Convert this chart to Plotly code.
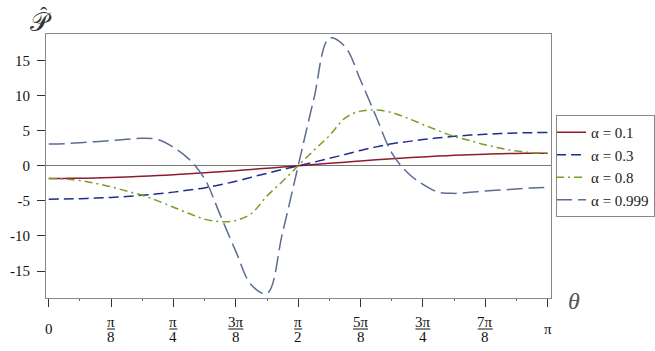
import math
import plotly.graph_objects as go

# sample positions in units of pi/32
theta_steps = list(range(33))
theta = [k * math.pi / 32 for k in theta_steps]

p_01 = [-1.80, -1.79, -1.77, -1.73, -1.66, -1.59, -1.50, -1.39, -1.27, -1.14, -1.00,
        -0.85, -0.69, -0.52, -0.35, -0.18, 0.00, 0.18, 0.35, 0.52, 0.69, 0.85,
        1.00, 1.14, 1.27, 1.39, 1.50, 1.59, 1.66, 1.73, 1.77, 1.79, 1.80]
p_03 = [-4.75, -4.73, -4.68, -4.60, -4.50, -4.38, -4.20, -4.00, -3.75, -3.45, -3.15,
        -2.70, -2.20, -1.62, -1.07, -0.52, 0.00, 0.52, 1.07, 1.62, 2.20, 2.70,
        3.15, 3.45, 3.75, 4.00, 4.20, 4.38, 4.50, 4.60, 4.68, 4.73, 4.75]
p_08 = [-1.80, -1.88, -2.10, -2.50, -3.00, -3.60, -4.20, -5.00, -5.90, -6.80, -7.60,
        -7.95, -7.80, -6.80, -4.30, -2.20, 0.00, 2.20, 4.30, 6.80, 7.80, 7.95,
        7.60, 6.80, 5.90, 5.00, 4.20, 3.60, 3.00, 2.50, 2.10, 1.88, 1.80]
p_0999 = [3.10, 3.15, 3.30, 3.45, 3.60, 3.78, 3.93, 3.75, 2.65, 0.95, -1.85,
          -7.00, -12.20, -17.00, -18.20, -9.50, 0.00, 9.50, 18.20, 17.00, 12.20, 7.00,
          1.85, -0.95, -2.65, -3.75, -3.93, -3.78, -3.60, -3.45, -3.30, -3.15, -3.10]

series_names = ["α = 0.1", "α = 0.3", "α = 0.8", "α = 0.999"]
series_values = [p_01, p_03, p_08, p_0999]
series_colors = ["#8e1b2e", "#1f2d8c", "#7d9a22", "#5b6d94"]
series_dash = ["solid", "10px,5px", "8px,4px,2px,4px", "16px,6px"]

y_ticks = [-15, -10, -5, 0, 5, 10, 15]
y_ticktext = ["-15", "-10", "-5", "0", "5", "10", "15"]

x_tick_eighths = [0, 1, 2, 3, 4, 5, 6, 7, 8]
x_num = ["0", "π", "π", "3π", "π", "5π", "3π", "7π", "π"]
x_den = ["", "8", "4", "8", "2", "8", "4", "8", ""]

SERIF = "Liberation Serif"

fig = go.Figure()
for name, vals, col, dash in zip(series_names, series_values, series_colors, series_dash):
    fig.add_trace(go.Scatter(
        x=theta, y=vals, mode="lines", name=name,
        line=dict(color=col, width=1.5, dash=dash, shape="spline", smoothing=1.0),
    ))

annotations = []
shapes = []
for e, num, den in zip(x_tick_eighths, x_num, x_den):
    xv = e * math.pi / 8
    if den == "":
        annotations.append(dict(x=xv, xref="x", y=0, yref="paper", text=num,
                                showarrow=False, yanchor="middle", yshift=-31,
                                font=dict(family=SERIF, size=15, color="#111")))
    else:
        annotations.append(dict(x=xv, xref="x", y=0, yref="paper", text=num,
                                showarrow=False, yanchor="middle", yshift=-24,
                                font=dict(family=SERIF, size=15, color="#111")))
        annotations.append(dict(x=xv, xref="x", y=0, yref="paper", text=den,
                                showarrow=False, yanchor="middle", yshift=-39,
                                font=dict(family=SERIF, size=15, color="#111")))
        half = 4 if len(num) == 1 else 7.5
        shapes.append(dict(type="line", xref="x", xsizemode="pixel", xanchor=xv,
                           x0=-half, x1=half, yref="paper", ysizemode="pixel",
                           yanchor=0, y0=-31, y1=-31,
                           line=dict(color="#111", width=1)))

annotations.append(dict(x=1, xref="paper", y=0, yref="paper", text="<i>θ</i>",
                        showarrow=False, xanchor="center", yanchor="middle",
                        xshift=23, yshift=-3,
                        font=dict(family=SERIF, size=24, color="#555")))
annotations.append(dict(x=0, xref="paper", y=1, yref="paper", text="𝒫",
                        showarrow=False, xanchor="center", yanchor="middle",
                        xshift=-5, yshift=12,
                        font=dict(family=SERIF, size=26, color="#333")))
annotations.append(dict(x=0, xref="paper", y=1, yref="paper", text="ˆ",
                        showarrow=False, xanchor="center", yanchor="middle",
                        xshift=-2, yshift=20,
                        font=dict(family=SERIF, size=22, color="#333")))

fig.update_layout(
    width=655, height=351,
    margin=dict(l=46, r=104, t=34, b=53, autoexpand=False),
    paper_bgcolor="white", plot_bgcolor="white",
    showlegend=True,
    legend=dict(x=1.01, xanchor="left", y=0.5, yanchor="middle",
                font=dict(family=SERIF, size=15, color="#222"),
                bordercolor="#888", borderwidth=1, bgcolor="white",
                itemwidth=30, tracegroupgap=0, indentation=-6),
    annotations=annotations,
    shapes=shapes,
)
fig.update_xaxes(
    range=[-0.017, math.pi + 0.021],
    automargin=False,
    showgrid=False, zeroline=False,
    showline=True, linecolor="#888", linewidth=1, mirror=True,
    ticks="outside", ticklen=8, tickcolor="#333",
    tickvals=[e * math.pi / 8 for e in x_tick_eighths],
    showticklabels=False,
    minor=dict(ticks="outside", ticklen=2, tickcolor="#666",
               tickvals=[(2 * e + 1) * math.pi / 16 for e in range(8)]),
)
fig.update_yaxes(
    range=[-18.85, 18.8],
    automargin=False,
    showgrid=False,
    zeroline=True, zerolinecolor="#777", zerolinewidth=1,
    showline=True, linecolor="#888", linewidth=1, mirror=True,
    ticks="outside", ticklen=8, tickcolor="#333",
    ticklabelstandoff=4,
    tickvals=y_ticks, ticktext=y_ticktext,
    tickfont=dict(family=SERIF, size=15, color="#111"),
)

fig.write_html("out.html", config={"displayModeBar": False},
               post_script="document.body.style.margin='0';document.body.style.padding='0';")
